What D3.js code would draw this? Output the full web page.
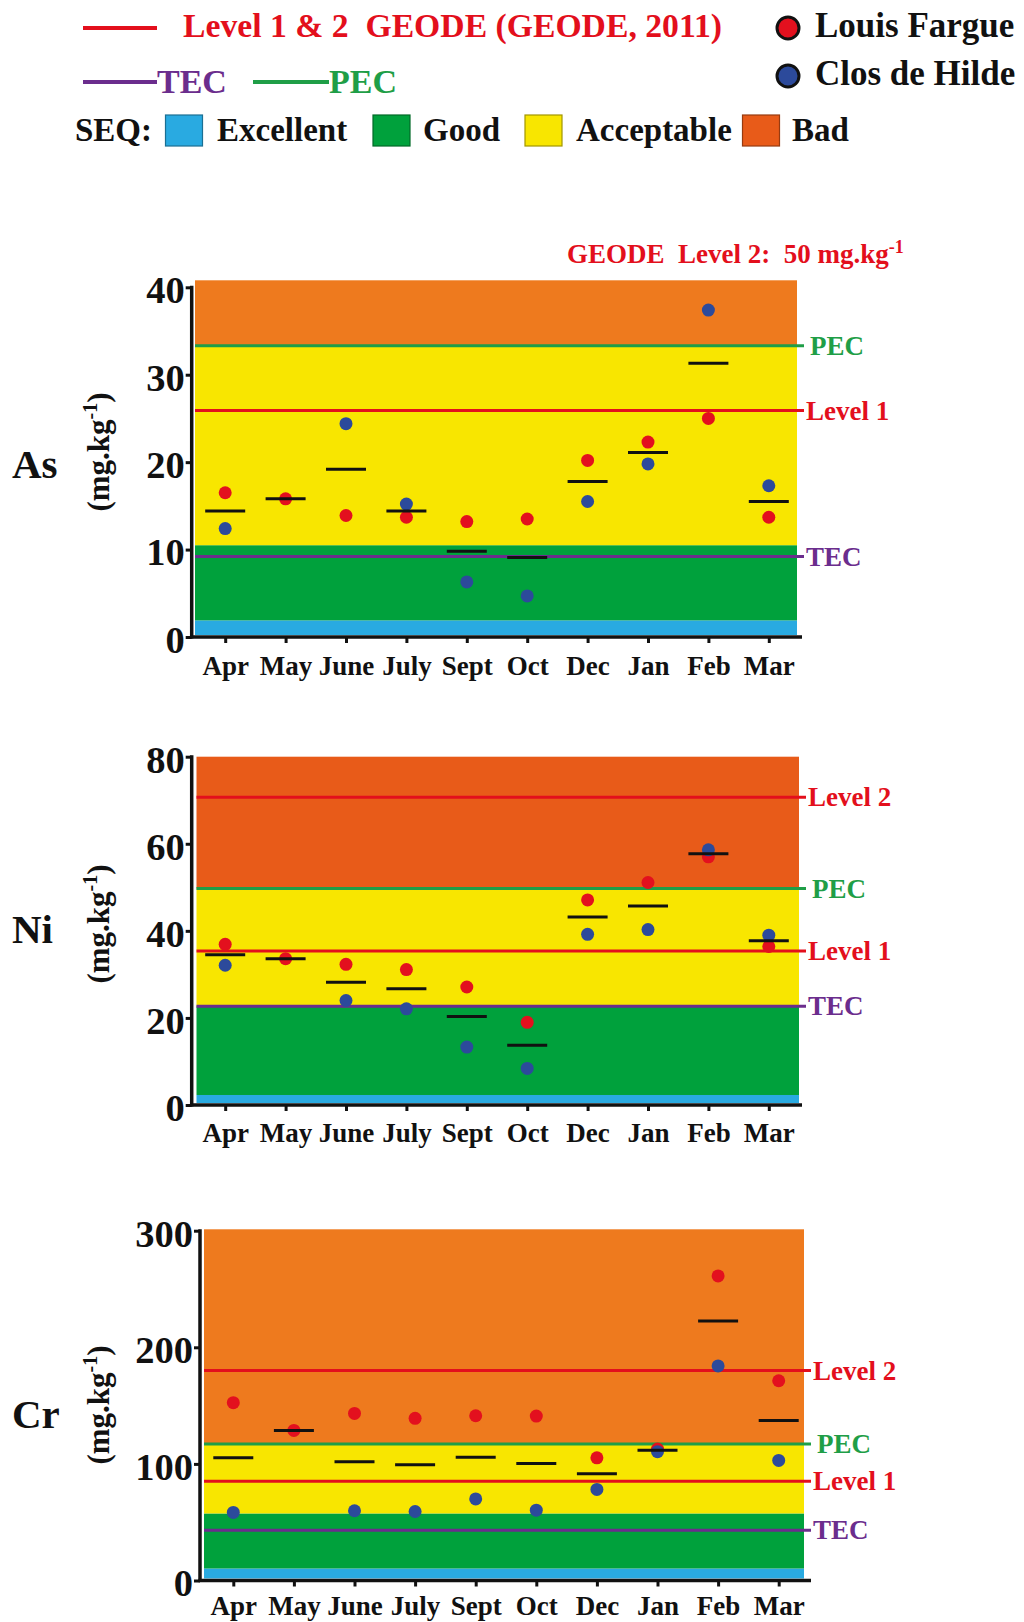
<!DOCTYPE html>
<html><head><meta charset="utf-8">
<script src="https://cdn.jsdelivr.net/npm/d3@7/dist/d3.min.js"></script>
<style>
body{margin:0;background:#fff;}
svg text{font-family:"Liberation Serif","Times New Roman",serif;font-weight:bold;white-space:pre;}
</style></head><body>
<svg id="c" width="1024" height="1622"></svg>
<script>
// ---------------- DATA ----------------
const months = ["Apr","May","June","July","Sept","Oct","Dec","Jan","Feb","Mar"];

const asLouis = [16.5,15.8,13.9,13.7,13.2,13.5,20.2,22.3,25.0,13.7];
const asClos  = [12.4,null,24.4,15.2,6.3,4.7,15.5,19.8,37.4,17.3];
const asMean  = [14.4,15.8,19.2,14.4,9.8,9.1,17.8,21.1,31.3,15.5];
const asTicks = [0,10,20,30,40];
const asSeq   = [0,1.9,10.5,33.3,40.8];          // Excellent | Good | Acceptable | Bad boundaries
const asGuideNames  = ["PEC","Level 1","TEC"];
const asGuideValues = [33.3,25.9,9.2];

const niLouis = [36.9,33.6,32.3,31.1,27.1,19.0,47.1,51.1,57.0,36.4];
const niClos  = [32.1,null,24.0,22.1,13.3,8.4,39.2,40.3,58.6,39.0];
const niMean  = [34.5,33.6,28.2,26.7,20.3,13.7,43.2,45.7,57.7,37.7];
const niTicks = [0,20,40,60,80];
const niSeq   = [0,2.3,22.7,49.7,80];
const niGuideNames  = ["Level 2","PEC","Level 1","TEC"];
const niGuideValues = [70.7,49.7,35.4,22.7];

const crLouis = [152.5,128.7,143.3,139.1,141.3,141.0,105.2,112.7,261.2,171.3];
const crClos  = [58.4,null,59.8,59.2,70.0,60.3,78.1,110.4,184.0,103.0];
const crMean  = [105.3,128.7,101.8,99.2,105.6,100.4,91.5,111.6,222.6,137.3];
const crTicks = [0,100,200,300];
const crSeq   = [0,10.3,57.5,117,301.2];
const crGuideNames  = ["Level 2","PEC","Level 1","TEC"];
const crGuideValues = [180,117,85.2,43.2];

const seqNames = ["Excellent","Good","Acceptable","Bad"];
const siteNames = ["Louis Fargue","Clos de Hilde"];

// ---------------- STYLE ----------------
const C = {
  blue:"#29aae1", green:"#00a13c", yellow:"#f8e600",
  orangeA:"#ee7a1e", orangeB:"#e85b19",
  red:"#e30f1c", pec:"#1f9e47", tec:"#6b2d8d",
  dotRed:"#e3101e", dotBlue:"#2c4a9b", ink:"#111"
};
function guideColor(n){ return n==="PEC"?C.pec : n==="TEC"?C.tec : C.red; }

const svg = d3.select("#c");

// ---------------- LEGEND ----------------
const lg = svg.append("g");
lg.append("line").attr("x1",83).attr("x2",157).attr("y1",28).attr("y2",28)
  .attr("stroke",C.red).attr("stroke-width",4);
lg.append("text").attr("x",183).attr("y",37).attr("font-size",33.7).attr("fill",C.red)
  .text("Level 1 & 2  GEODE (GEODE, 2011)");
lg.append("line").attr("x1",83).attr("x2",157).attr("y1",82).attr("y2",82)
  .attr("stroke",C.tec).attr("stroke-width",4);
lg.append("text").attr("x",157).attr("y",93).attr("font-size",34).attr("fill",C.tec).text("TEC");
lg.append("line").attr("x1",253).attr("x2",329).attr("y1",82).attr("y2",82)
  .attr("stroke",C.pec).attr("stroke-width",4);
lg.append("text").attr("x",329).attr("y",93).attr("font-size",34).attr("fill",C.pec).text("PEC");

const siteCol = [C.dotRed, C.dotBlue];
const siteY = [28,76];
siteNames.forEach((n,i)=>{
  lg.append("circle").attr("cx",788).attr("cy",siteY[i]).attr("r",11)
    .attr("fill",siteCol[i]).attr("stroke","#111").attr("stroke-width",3);
  lg.append("text").attr("x",815).attr("y",siteY[i]+9).attr("font-size",35).attr("fill",C.ink).text(n);
});

lg.append("text").attr("x",75).attr("y",141).attr("font-size",33).attr("fill",C.ink).text("SEQ:");
const seqCols = [C.blue,C.green,C.yellow,C.orangeB];
const seqBoxX = [165.5,373,525,742.5];
const seqTxtX = [217,423,576,792];
seqNames.forEach((n,i)=>{
  lg.append("rect").attr("x",seqBoxX[i]).attr("y",115).attr("width",37).attr("height",31)
    .attr("fill",seqCols[i]).attr("stroke",d3.color(seqCols[i]).darker(1.2)).attr("stroke-width",1.2);
  lg.append("text").attr("x",seqTxtX[i]).attr("y",141).attr("font-size",33).attr("fill",C.ink).text(n);
});

// ---------------- PANELS ----------------
function panel(cfg){
  const g = svg.append("g");
  const y = d3.scaleLinear().domain([0,cfg.ticks[cfg.ticks.length-1]]).range([cfg.y0,cfg.yTop]);
  const x = d3.scalePoint().domain(months).range(cfg.xRange).padding(0.5);

  // SEQ bands
  const bandCols = [C.blue,C.green,C.yellow,cfg.orange];
  for(let i=0;i<4;i++){
    const yb = i===0 ? cfg.y0-2 : y(cfg.seq[i]);
    g.append("rect").attr("x",cfg.bandL).attr("width",cfg.bandR-cfg.bandL)
      .attr("y",y(cfg.seq[i+1])).attr("height",yb-y(cfg.seq[i+1]))
      .attr("fill",bandCols[i]);
  }
  // guide lines
  cfg.guideNames.forEach((n,i)=>{
    const yy = y(cfg.guideValues[i]);
    g.append("line").attr("x1",cfg.bandL).attr("x2",cfg.bandR+7).attr("y1",yy).attr("y2",yy)
      .attr("stroke",guideColor(n)).attr("stroke-width",3);
    g.append("text").attr("x",cfg.bandR+9+(n==="PEC"?4:0)).attr("y",yy).attr("dy","0.34em")
      .attr("font-size",27).attr("fill",guideColor(n)).text(n);
  });

  // axes
  const ya = d3.axisLeft(y).tickValues(cfg.ticks).tickSize(6).tickPadding(1);
  const yg = g.append("g").attr("transform",`translate(${cfg.axisX},0)`).call(ya);
  yg.select(".domain").remove();
  yg.selectAll(".tick line").attr("stroke","#111").attr("stroke-width",3);
  yg.selectAll(".tick text").attr("font-size",38.5).attr("font-family","Liberation Serif")
    .attr("font-weight","bold").attr("fill","#111").attr("dy","0.4em");
  g.append("line").attr("x1",cfg.axisX).attr("x2",cfg.axisX).attr("y1",cfg.yTop-1.5).attr("y2",cfg.y0+1.5)
    .attr("stroke","#111").attr("stroke-width",3.5);

  const xa = d3.axisBottom(x).tickSize(6).tickPadding(0);
  const xg = g.append("g").attr("transform",`translate(0,${cfg.y0})`).call(xa);
  xg.select(".domain").remove();
  xg.selectAll(".tick line").attr("stroke","#111").attr("stroke-width",3);
  xg.selectAll(".tick text").attr("font-size",27).attr("font-family","Liberation Serif")
    .attr("font-weight","bold").attr("fill","#111").attr("y",cfg.labelOff).attr("dy",0);
  g.append("line").attr("x1",cfg.axisX-1.5).attr("x2",cfg.axisEnd).attr("y1",cfg.y0).attr("y2",cfg.y0)
    .attr("stroke","#111").attr("stroke-width",3.5);

  // points
  g.selectAll(".lf").data(months.map((m,i)=>({m,v:cfg.louis[i]})).filter(d=>d.v!=null))
    .enter().append("circle").attr("cx",d=>x(d.m)).attr("cy",d=>y(d.v)).attr("r",6.5).attr("fill",C.dotRed);
  g.selectAll(".ch").data(months.map((m,i)=>({m,v:cfg.clos[i]})).filter(d=>d.v!=null))
    .enter().append("circle").attr("cx",d=>x(d.m)).attr("cy",d=>y(d.v)).attr("r",6.5).attr("fill",C.dotBlue);
  g.selectAll(".mn").data(months.map((m,i)=>({m,v:cfg.mean[i]})))
    .enter().append("line").attr("x1",d=>x(d.m)-20).attr("x2",d=>x(d.m)+20)
    .attr("y1",d=>y(d.v)).attr("y2",d=>y(d.v)).attr("stroke","#111").attr("stroke-width",3);

  // labels
  g.append("text").attr("x",12).attr("y",cfg.nameY).attr("font-size",41).attr("fill","#111").text(cfg.name);
  const ut = g.append("text").attr("transform",`translate(109,${cfg.unitY}) rotate(-90)`)
    .attr("text-anchor","middle").attr("font-size",31).attr("fill","#111");
  ut.append("tspan").text("(mg.kg");
  ut.append("tspan").attr("font-size",20).attr("dy",-12).text("-1");
  ut.append("tspan").attr("dy",12).text(")");
  return {x,y,g};
}

panel({name:"As",nameY:478,unitY:452,ticks:asTicks,seq:asSeq,orange:C.orangeA,
  louis:asLouis,clos:asClos,mean:asMean,guideNames:asGuideNames,guideValues:asGuideValues,
  y0:637,yTop:287.3,axisX:191.7,bandL:195,bandR:797,xRange:[195,799],axisEnd:802,labelOff:38});
panel({name:"Ni",nameY:943,unitY:924,ticks:niTicks,seq:niSeq,orange:C.orangeB,
  louis:niLouis,clos:niClos,mean:niMean,guideNames:niGuideNames,guideValues:niGuideValues,
  y0:1105,yTop:756.7,axisX:191.7,bandL:196.5,bandR:799,xRange:[195,799],axisEnd:802,labelOff:37});
panel({name:"Cr",nameY:1428,unitY:1405,ticks:crTicks,seq:crSeq,orange:C.orangeA,
  louis:crLouis,clos:crClos,mean:crMean,guideNames:crGuideNames,guideValues:crGuideValues,
  y0:1580.5,yTop:1230.7,axisX:200,bandL:204,bandR:804,xRange:[203,809],axisEnd:811,labelOff:34.5});

// As title
const tt = svg.append("text").attr("x",567).attr("y",263).attr("font-size",27).attr("fill",C.red);
tt.append("tspan").text("GEODE  Level 2:  50 mg.kg");
tt.append("tspan").attr("font-size",18).attr("dy",-10).text("-1");
</script>
</body></html>
